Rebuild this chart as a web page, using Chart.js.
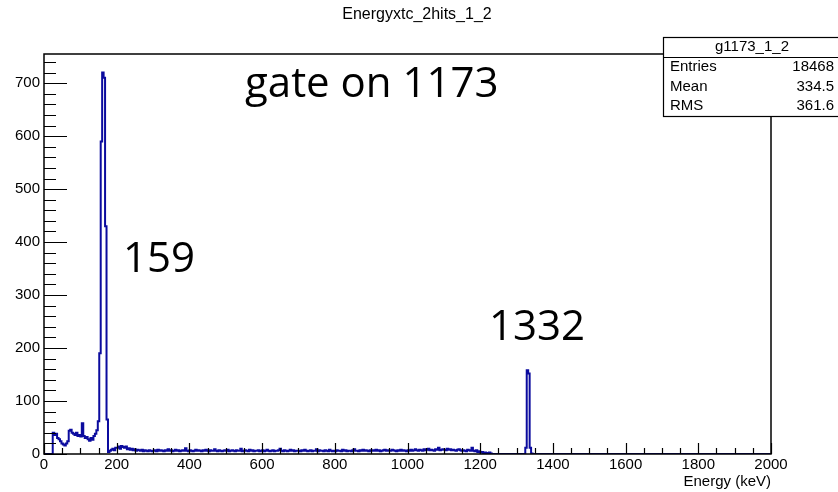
<!DOCTYPE html>
<html lang="en">
<head>
  <meta charset="UTF-8">
  <title>Energyxtc_2hits_1_2</title>
  <style>
    body { margin: 0; background: #fff; }
    #wrap { width: 838px; height: 492px; position: relative; }
  </style>
</head>
<body>
<div id="wrap"><canvas id="histo"></canvas></div>

<script src="https://cdn.jsdelivr.net/npm/chart.js"></script>
<script>
  // Histogram g1173_1_2: 4 keV bins from 0 keV, counts.
  // One row = 100 keV. Above 1400 keV the spectrum is empty.
  const binWidth = 4;
  const xMax = 2000;
  const yMax = 755;
  const counts = [
    0, 0, 0, 0, 0, 0, 40, 36, 38, 30, 28, 24, 20, 18, 16, 20, 24, 44, 46, 40, 38, 36, 40, 34, 36,
    33, 58, 34, 30, 32, 28, 25, 30, 27, 34, 38, 45, 62, 190, 590, 720, 710, 430, 65, 4, 6, 8, 10, 7, 12,
    12, 14, 10, 15, 13, 12, 14, 9, 11, 8, 10, 7, 9, 6, 8, 7, 6, 8, 5, 7, 6, 5, 7, 6, 5,
    6, 7, 5, 8, 6, 7, 6, 5, 7, 6, 9, 6, 7, 5, 6, 8, 6, 7, 5, 6, 7, 6, 11, 6, 5,
    7, 6, 5, 6, 8, 6, 7, 6, 5, 7, 6, 8, 6, 5, 7, 6, 6, 9, 6, 5, 7, 6, 5, 6, 7,
    6, 8, 5, 6, 7, 6, 5, 7, 6, 6, 10, 5, 6, 7, 6, 5, 8, 6, 7, 5, 6, 6, 7, 5, 6,
    7, 5, 6, 8, 6, 5, 6, 7, 5, 6, 6, 7, 10, 6, 5, 7, 6, 5, 6, 8, 6, 7, 5, 6, 6,
    6, 5, 7, 6, 8, 6, 5, 6, 7, 5, 6, 6, 9, 5, 7, 6, 6, 5, 7, 6, 5, 8, 6, 5, 6,
    5, 7, 6, 6, 5, 8, 6, 7, 5, 6, 6, 5, 7, 9, 6, 6, 5, 7, 6, 8, 6, 7, 6, 5, 7,
    6, 7, 6, 8, 6, 7, 5, 6, 7, 8, 6, 7, 6, 6, 8, 7, 6, 5, 7, 6, 8, 6, 7, 6, 5,
    7, 6, 8, 6, 7, 9, 7, 6, 8, 7, 6, 9, 7, 8, 10, 7, 8, 7, 6, 9, 8, 12, 7, 8, 9,
    8, 7, 10, 8, 9, 7, 8, 7, 6, 8, 9, 7, 6, 7, 6, 5, 8, 7, 6, 12, 6, 5, 7, 4, 5,
    3, 4, 2, 3, 1, 2, 3, 1, 0, 0, 0, 0, 0, 0, 0, 0, 0, 0, 0, 0, 0, 0, 0, 0, 0,
    0, 0, 0, 0, 0, 0, 12, 158, 152, 12, 1, 0, 0, 0, 0, 0, 0, 0, 0, 0, 0, 0, 0, 0, 0
  ];
  const xTicks = [0, 200, 400, 600, 800, 1000, 1200, 1400, 1600, 1800, 2000];
  const yTicks = [0, 100, 200, 300, 400, 500, 600, 700];

  const titleText = 'Energyxtc_2hits_1_2';
  const xTitle = 'Energy (keV)';
  const statsName = 'g1173_1_2';
  const statsLabels = ['Entries', 'Mean', 'RMS'];
  const statsValues = ['18468', '334.5', '361.6'];
  const noteTexts = ['gate on 1173', '159', '1332'];

  // points at left bin edges, plus the closing edge at 2000 keV
  const points = counts.map((c, i) => ({ x: i * binWidth, y: c }));
  points.push({ x: xMax, y: 0 });

  const axisFont = { family: 'Liberation Sans', size: 15 };

  // ROOT-like frame, inner ticks, title, stats box and hand notes
  const rootDecor = {
    id: 'rootDecor',
    afterDraw(chart) {
      const { ctx, chartArea: a, scales: { x, y } } = chart;
      ctx.save();

      ctx.strokeStyle = '#000';
      ctx.lineWidth = 1.5;
      ctx.strokeRect(a.left, a.top, a.right - a.left, a.bottom - a.top);

      ctx.beginPath();
      for (let v = 0; v <= yMax; v += 20) {
        const py = Math.round(y.getPixelForValue(v)) + 0.5;
        const len = v % 100 === 0 ? 23 : 12;
        ctx.moveTo(a.left, py);
        ctx.lineTo(a.left + len, py);
      }
      for (let v = 0; v <= xMax; v += 50) {
        const px = Math.round(x.getPixelForValue(v)) + 0.5;
        const len = v % 200 === 0 ? 11 : 6;
        ctx.moveTo(px, a.bottom);
        ctx.lineTo(px, a.bottom - len);
      }
      ctx.lineWidth = 1.2;
      ctx.stroke();

      ctx.fillStyle = '#000';
      ctx.font = '16px "Liberation Sans"';
      ctx.textAlign = 'center';
      ctx.textBaseline = 'middle';
      ctx.fillText(titleText, 417, 15);

      ctx.font = '15px "Liberation Sans"';
      ctx.textAlign = 'right';
      ctx.fillText(xTitle, a.right, 482);

      // stats box
      const bx = 663, by = 37, bw = 180, bh = 79;
      ctx.fillStyle = '#fff';
      ctx.fillRect(bx, by, bw, bh);
      ctx.lineWidth = 1.2;
      ctx.strokeRect(bx + 0.5, by + 0.5, bw, bh);
      ctx.beginPath();
      ctx.moveTo(bx, 57.5);
      ctx.lineTo(bx + bw, 57.5);
      ctx.stroke();
      ctx.fillStyle = '#000';
      ctx.font = '15px "Liberation Sans"';
      ctx.textAlign = 'center';
      ctx.fillText(statsName, 752, 47);
      const rowY = [67, 86.5, 106];
      statsLabels.forEach((lab, i) => {
        ctx.textAlign = 'left';
        ctx.fillText(lab, 670, rowY[i]);
        ctx.textAlign = 'right';
        ctx.fillText(statsValues[i], 834, rowY[i]);
      });

      // notes written on the slide
      ctx.font = '42px "Open Sans"';
      ctx.textAlign = 'left';
      ctx.textBaseline = 'alphabetic';
      ctx.fillText(noteTexts[0], 245, 97);
      ctx.fillText(noteTexts[1], 123, 272);
      ctx.fillText(noteTexts[2], 489, 340);

      ctx.restore();
    }
  };

  new Chart(document.getElementById('histo'), {
    type: 'line',
    data: {
      datasets: [{
        data: points,
        stepped: true,
        borderColor: '#0b0b9e',
        borderWidth: 2,
        pointRadius: 0,
        fill: false
      }]
    },
    options: {
      responsive: true,
      maintainAspectRatio: false,
      animation: false,
      layout: { padding: { top: 54, right: 67, left: 0, bottom: 0 } },
      plugins: {
        legend: { display: false },
        title: { display: false },
        tooltip: { enabled: false }
      },
      scales: {
        x: {
          type: 'linear',
          min: 0,
          max: xMax,
          grid: { display: false, drawTicks: false },
          border: { display: false },
          ticks: { font: axisFont, color: '#000', padding: 2, maxRotation: 0, callback: (v) => String(v) },
          afterBuildTicks: (s) => { s.ticks = xTicks.map(v => ({ value: v })); },
          afterFit: (s) => { s.height = 38; }
        },
        y: {
          min: 0,
          max: yMax,
          grid: { display: false, drawTicks: false },
          border: { display: false },
          ticks: { font: axisFont, color: '#000', padding: 4, callback: (v) => String(v) },
          afterBuildTicks: (s) => { s.ticks = yTicks.map(v => ({ value: v })); },
          afterFit: (s) => { s.width = 44; }
        }
      }
    },
    plugins: [rootDecor]
  });
</script>
</body>
</html>
